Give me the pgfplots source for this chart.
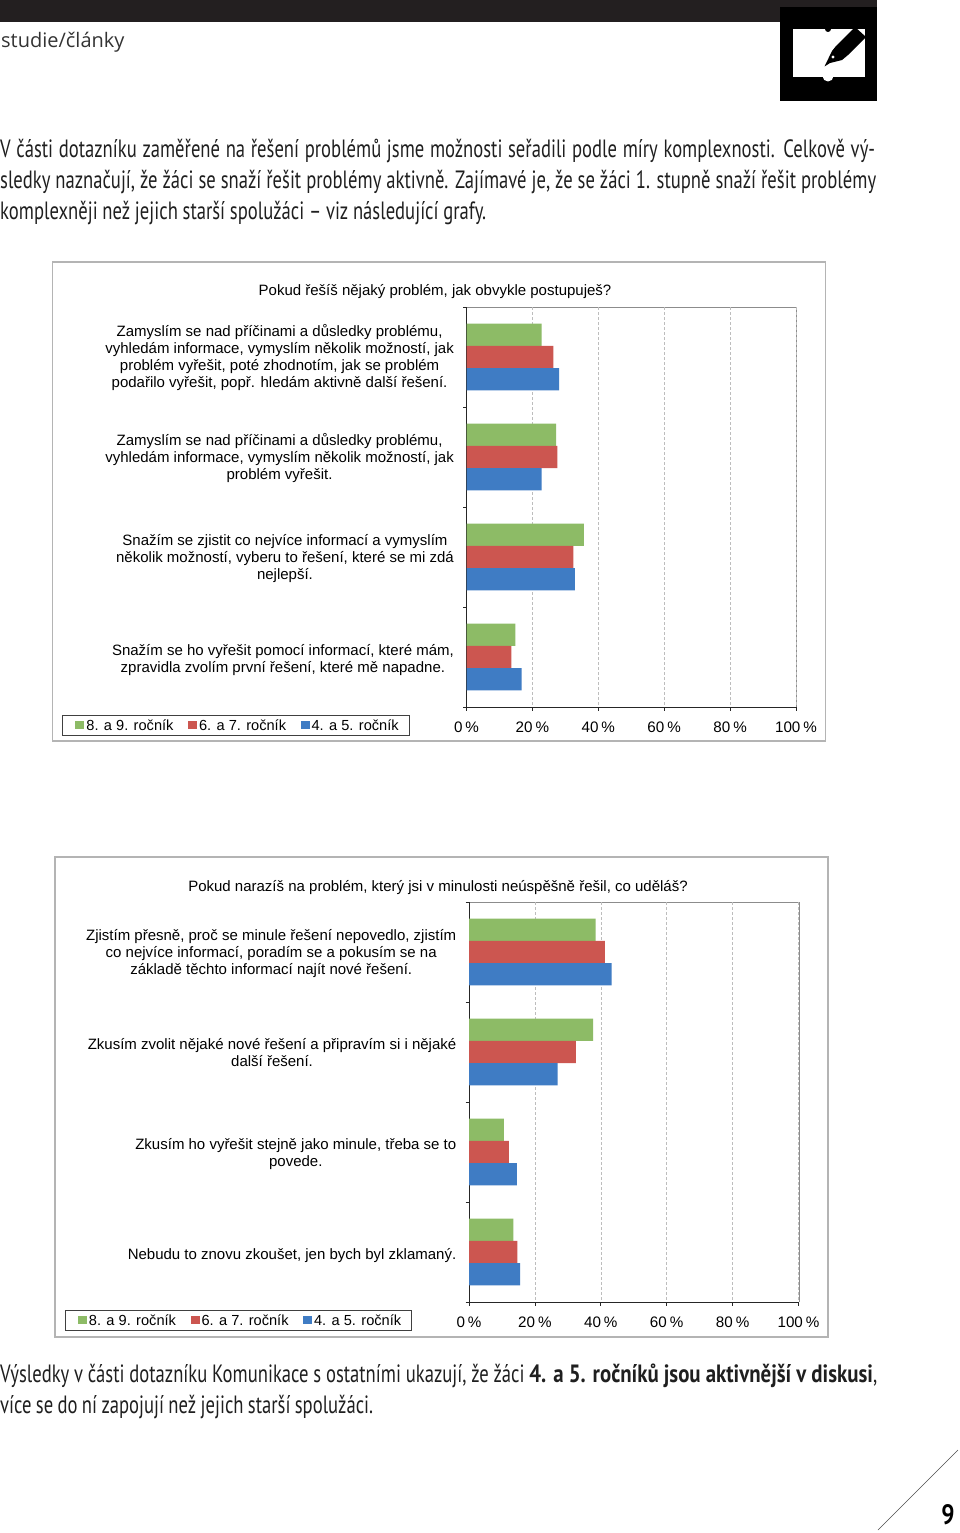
\documentclass[border=0pt]{standalone}
\usepackage{pgfplots}
\pgfplotsset{compat=1.18}
\usepackage{fontspec}
\setmainfont{Liberation Sans}
\newfontfamily\body[FakeStretch=0.745,BoldFeatures={FakeStretch=0.835}]{PT Sans}
\newfontfamily\head{Open Sans}
\definecolor{cg}{HTML}{8DBB66}
\definecolor{cr}{HTML}{CC5650}
\definecolor{cb}{HTML}{3F7CC4}
\definecolor{fr}{HTML}{B4B4B4}
\definecolor{spine}{HTML}{8C8C8C}
\definecolor{gridc}{HTML}{BDBDBD}
\definecolor{bartop}{HTML}{231F20}
\pgfplotsset{chartstyle/.style={
  at={(#1)}, anchor=south west, scale only axis, width=329.5pt, height=400pt,
  xbar=0pt, bar width=22.3pt, xmin=0, xmax=100, ymin=0.5, ymax=4.5, y dir=reverse,
  axis x line*=bottom, axis y line*=left, axis line style={black!85,-,line width=0.9pt},
  xtick={0,20,...,100}, xticklabels={0\hspace{3pt}\%,20\hspace{3pt}\%,40\hspace{3pt}\%,60\hspace{3pt}\%,80\hspace{3pt}\%,100\hspace{3pt}\%},
  tick style={black!85,line width=0.7pt}, tick align=outside, major tick length=3.5pt,
  xmajorgrids, grid style={gridc,densely dashed,line width=0.6pt},
  ytick={0.5,1.5,2.5,3.5,4.5}, yticklabels={},
  extra y ticks={1,2,3,4},
  extra y tick style={major tick length=0pt,grid=none},
  yticklabel style={align=center,font=\fontsize{15}{17}\selectfont,inner sep=0pt,xshift=-12.5pt,yshift=-0.7pt},
  xticklabel style={font=\fontsize{15.2}{17}\selectfont,yshift=-7.5pt},
  legend columns=3,
  legend style={at={(-1.2276,-0.0725)},anchor=south west,draw=black!75,line width=0.8pt,
    font=\fontsize{14.6}{17}\selectfont,inner xsep=8.5pt,inner ysep=2pt,
    /tikz/every even column/.append style={column sep=8pt}},
  legend image code/.code={\path (0pt,0pt); \fill[##1] (4.5pt,-4pt) rectangle (13.5pt,4pt);},
  legend cell align=left,
}}
\begin{document}
\begin{tikzpicture}
\path (0pt,0pt) rectangle (960pt,-1533pt);
% header
\fill[bartop] (0pt,0pt) rectangle (877pt,-22pt);
\fill[black] (780pt,-7pt) rectangle (877pt,-101pt);
\fill[white] (793pt,-29pt) rectangle (865pt,-77pt);
\fill[black] (828pt,-29pt) circle (3pt);
\fill[white] (828pt,-76pt) circle (5.5pt);
\fill[black] (824.5pt,-66.5pt) -- (832pt,-51pt) -- (836pt,-46pt) -- (855pt,-27pt) -- (866pt,-37pt) -- (848pt,-55pt) -- (842pt,-60pt) -- (830pt,-63pt) -- cycle;
\fill[white] (833pt,-57pt) circle (1.6pt);
\node[anchor=west,inner sep=0pt,text=black!80,font=\head\fontsize{20}{22}\selectfont] at (1pt,-42pt) {studie/články};
% body text
\begin{scope}[every node/.style={anchor=west,inner sep=0pt,text=black!88,font=\body\fontsize{25}{30}\selectfont}]
\node at (0pt,-151pt) {\makebox[875pt][s]{V části dotazníku zaměřené na řešení problémů jsme možnosti seřadili podle míry komplexnosti. Celkově vý-}};
\node at (0pt,-182pt) {\makebox[876pt][s]{sledky naznačují, že žáci se snaží řešit problémy aktivně. Zajímavé je, že se žáci 1. stupně snaží řešit problémy}};
\node at (0pt,-213pt) {\makebox[486pt][s]{komplexněji než jejich starší spolužáci – viz následující grafy.}};
\node at (0pt,-1376pt) {\makebox[877pt][s]{Výsledky v části dotazníku Komunikace s ostatními ukazují, že žáci \textbf{4. a 5. ročníků jsou aktivnější v diskusi},}};
\node at (0pt,-1407pt) {\makebox[373pt][s]{více se do ní zapojují než jejich starší spolužáci.}};
\end{scope}
% page number
\draw[black!70,line width=0.6pt] (878pt,-1530pt) -- (958pt,-1450pt);
\node[inner sep=0pt,font=\body\bfseries\fontsize{28}{30}\selectfont] at (948pt,-1515pt) {9};
% panels
\draw[fr,line width=1.2pt,fill=white] (52.5pt,-262pt) rectangle (825.5pt,-741pt);
\draw[fr,line width=1.2pt,fill=white] (55pt,-857pt) rectangle (828pt,-1337pt);
\draw[spine,line width=0.9pt] (466.5pt,-307pt) -- (796pt,-307pt) -- (796pt,-707pt);
\draw[spine,line width=0.9pt] (469pt,-902pt) -- (799pt,-902pt) -- (799pt,-1302pt);
\node[font=\fontsize{15}{17}\selectfont] at (435pt,-291.5pt) {Pokud řešíš nějaký problém, jak obvykle postupuješ?};
\node[font=\fontsize{15}{17}\selectfont] at (438pt,-887.5pt) {Pokud narazíš na problém, který jsi v minulosti neúspěšně řešil, co uděláš?};
% chart 1
\begin{axis}[chartstyle={466.5pt,-707pt},
  extra y tick labels={
    {Zamyslím se nad příčinami a důsledky problému,\\vyhledám informace, vymyslím několik možností, jak\\problém vyřešit, poté zhodnotím, jak se problém\\podařilo vyřešit, popř. hledám aktivně další řešení.},
    {Zamyslím se nad příčinami a důsledky problému,\\vyhledám informace, vymyslím několik možností, jak\\problém vyřešit.},
    {\rule{0pt}{13pt}Snažím se zjistit co nejvíce informací a vymyslím\\několik možností, vyberu to řešení, které se mi zdá\\nejlepší.},
    {\rule{0pt}{15pt}Snažím se ho vyřešit pomocí informací, které mám,\\zpravidla zvolím první řešení, které mě napadne.}}]
\addplot[fill=cg,draw=none,/pgf/bar shift=22.3pt] coordinates {(22.8,1) (27.2,2) (35.6,3) (14.8,4)};
\addplot[fill=cr,draw=none,/pgf/bar shift=0pt] coordinates {(26.4,1) (27.6,2) (32.4,3) (13.6,4)};
\addplot[fill=cb,draw=none,/pgf/bar shift=-22.3pt] coordinates {(28.1,1) (22.8,2) (32.9,3) (16.7,4)};
\legend{8. a 9. ročník,6. a 7. ročník,4. a 5. ročník}
\end{axis}
% chart 2
\begin{axis}[chartstyle={469pt,-1302pt},
  extra y tick labels={
    {\rule{0pt}{13pt}Zjistím přesně, proč se minule řešení nepovedlo, zjistím\\co nejvíce informací, poradím se a pokusím se na\\základě těchto informací najít nové řešení.},
    {Zkusím zvolit nějaké nové řešení a připravím si i nějaké\\další řešení.},
    {\rule{0pt}{13pt}Zkusím ho vyřešit stejně jako minule, třeba se to\\povede.},
    {\rule{0pt}{17pt}Nebudu to znovu zkoušet, jen bych byl zklamaný.}}]
\addplot[fill=cg,draw=none,/pgf/bar shift=22.3pt] coordinates {(38.4,1) (37.7,2) (10.6,3) (13.5,4)};
\addplot[fill=cr,draw=none,/pgf/bar shift=0pt] coordinates {(41.2,1) (32.4,2) (12.1,3) (14.7,4)};
\addplot[fill=cb,draw=none,/pgf/bar shift=-22.3pt] coordinates {(43.3,1) (26.9,2) (14.5,3) (15.5,4)};
\legend{8. a 9. ročník,6. a 7. ročník,4. a 5. ročník}
\end{axis}
\end{tikzpicture}
\end{document}
